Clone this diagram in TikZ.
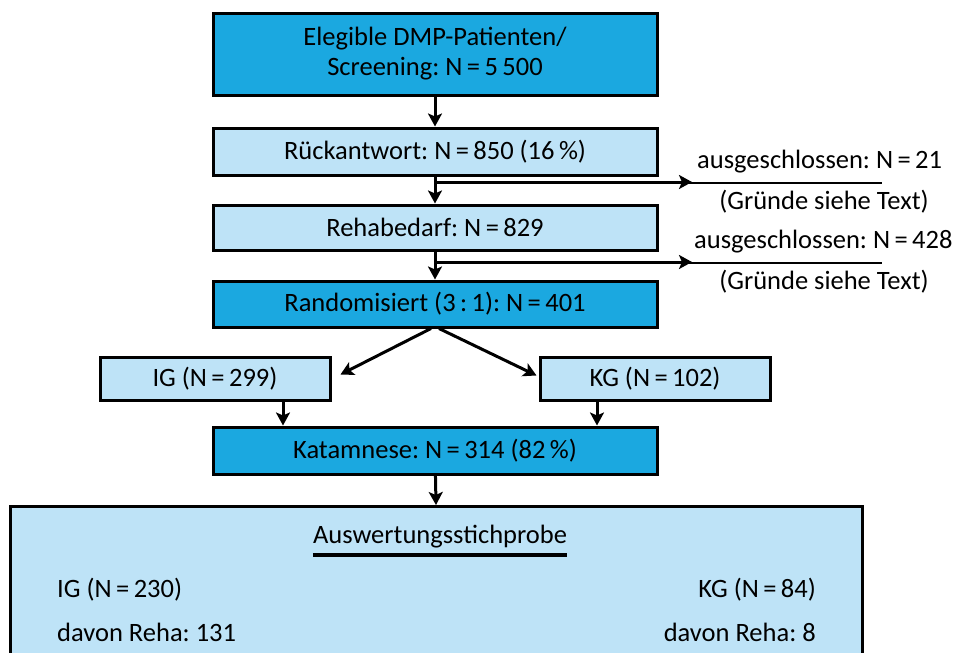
\documentclass[tikz,border=0pt]{standalone}
\usepackage{fontspec}
\setmainfont{Carlito}
\usetikzlibrary{arrows.meta,calc}
\definecolor{boxdark}{HTML}{1BA8E0}
\definecolor{boxlight}{HTML}{BEE3F7}
\tikzset{
  flowbox/.style={draw=black, line width=3pt, minimum width=444pt, inner sep=0pt, align=center, font=\fontsize{26.5}{30}\selectfont},
  darkbox/.style={flowbox, fill=boxdark},
  lightbox/.style={flowbox, fill=boxlight},
  arr/.style={line width=3pt, -{Stealth[length=13pt,width=14pt,inset=3pt]}},
  txt/.style={inner sep=0pt, font=\fontsize{26.5}{30}\selectfont},
}
\begin{document}
\frenchspacing
\begin{tikzpicture}[x=1pt,y=-1pt]
\useasboundingbox (0,0) rectangle (956,653);
\fill[white] (0,0) rectangle (956,653);

% main column
\node[darkbox, minimum height=82pt] (elig) at (435,54) {Elegible DMP-Patienten/\\Screening: N\,=\,5\,500};
\node[lightbox, minimum height=47pt] (rueck) at (435,151.5) {Rückantwort: N\,=\,850 (16\,\%)};
\node[lightbox, minimum height=45pt] (reha) at (435,227.5) {Rehabedarf: N\,=\,829};
\node[darkbox, minimum height=46pt] (rand) at (435,304) {Randomisiert (3\,:\,1): N\,=\,401};
\node[lightbox, minimum width=230pt, minimum height=43pt] (ig) at (215,378.5) {IG (N\,=\,299)};
\node[lightbox, minimum width=230pt, minimum height=43pt] (kg) at (655,378.5) {KG (N\,=\,102)};
\node[darkbox, minimum height=47pt] (kat) at (435,450.5) {Katamnese: N\,=\,314 (82\,\%)};

% evaluation sample (continues below the page edge)
\begin{scope}
\clip (0,0) rectangle (956,653);
\node[lightbox, minimum width=852pt, minimum height=200pt, anchor=north] (ausw) at (436,505) {};
\end{scope}
\node[txt] (awt) at (440,537) {Auswertungsstichprobe};
\draw[line width=3.5pt] (awt.west |- 0,555) -- (awt.east |- 0,555);
\node[txt, anchor=west] (igA) at (57,590) {IG (N\,=\,230)};
\node[txt, anchor=west] (igR) at (57,632) {davon Reha: 131};
\node[txt, anchor=east] (kgA) at (816,590) {KG (N\,=\,84)};
\node[txt, anchor=east] (kgR) at (816,632) {davon Reha: 8};

% exclusions
\node[txt, anchor=west] (ex1) at (697,162) {ausgeschlossen: N\,=\,21};
\node[txt] (ex1g) at (824,202) {(Gründe siehe Text)};
\node[txt, anchor=west] (ex2) at (694,242) {ausgeschlossen: N\,=\,428};
\node[txt] (ex2g) at (824,282) {(Gründe siehe Text)};
\coordinate (j1) at (435,182);
\coordinate (j2) at (435,262);
\coordinate (t1) at (692,182);
\coordinate (t2) at (692,262);
\draw[line width=2pt] (684,183) -- (882,183);
\draw[line width=2pt] (684,263) -- (882,263);

% connectors
\draw[arr] (elig) -- (rueck);
\draw[arr] (rueck) -- (reha);
\draw[arr] (reha) -- (rand);
\draw[arr] (j1) -- (t1);
\draw[arr] (j2) -- (t2);
\coordinate (igtip) at ($(ig.east)+(9,-4)$);
\coordinate (kgtip) at ($(kg.west)+(-2,-3)$);
\draw[arr] ($(rand.south)+(-4,0)$) -- (igtip);
\draw[arr] ($(rand.south)+(4,0)$) -- (kgtip);
\coordinate (igdown) at ($(ig.south)+(68,0)$);
\coordinate (kgdown) at ($(kg.south)+(-58,0)$);
\draw[arr] (igdown) -- (igdown |- kat.north);
\draw[arr] (kgdown) -- (kgdown |- kat.north);
\draw[arr] (kat) -- (ausw.north);
\end{tikzpicture}
\end{document}
